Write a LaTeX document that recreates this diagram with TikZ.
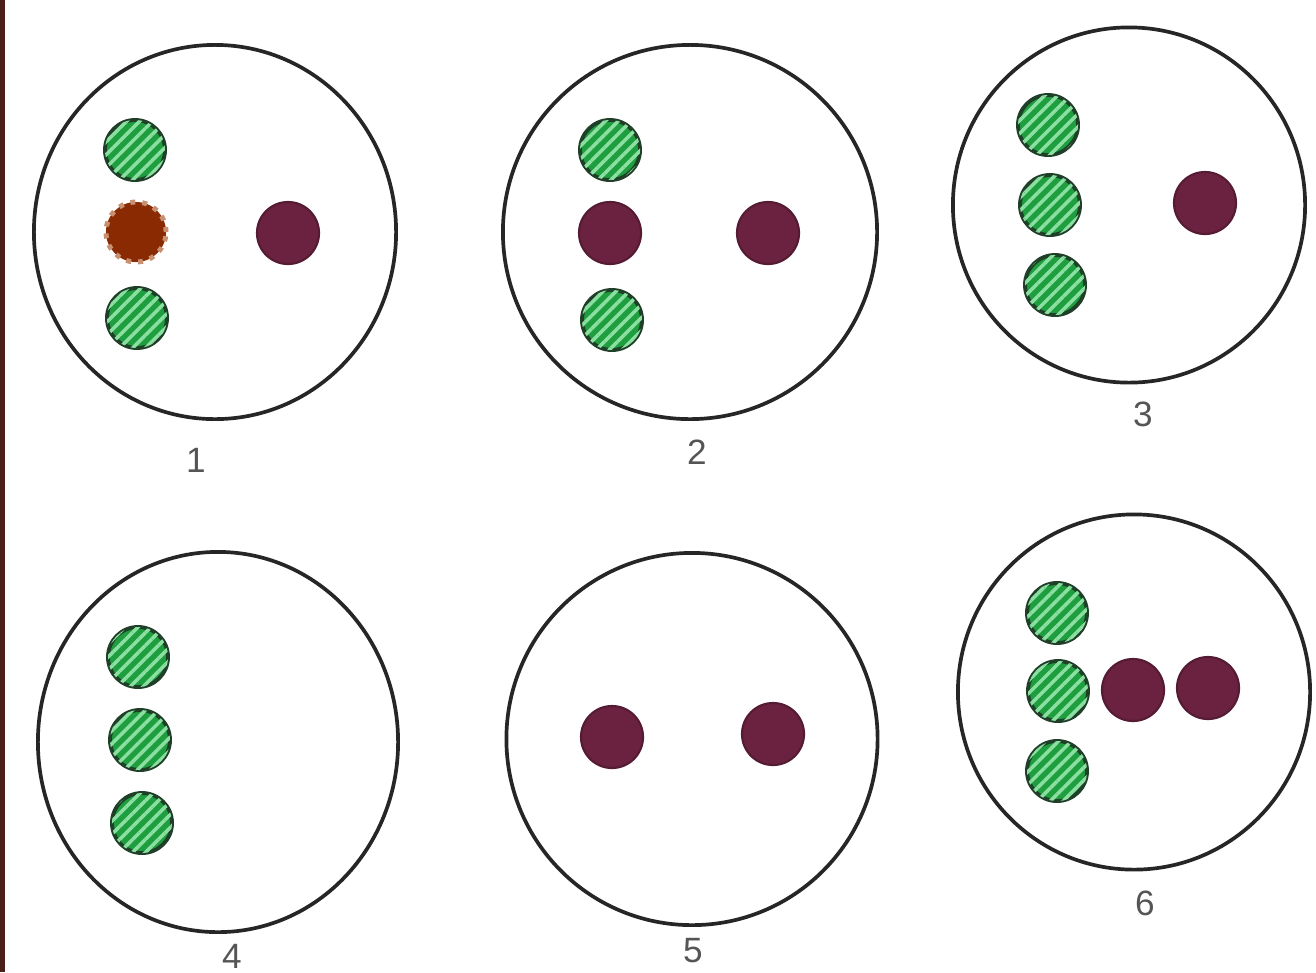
\documentclass[tikz,border=0pt]{standalone}
\usetikzlibrary{shapes.geometric,patterns.meta}
\usepackage{fontspec}
\setmainfont{Liberation Sans}
\definecolor{strip}{HTML}{4A2018}
\definecolor{gfill}{HTML}{1E9E3E}
\definecolor{gstripe}{HTML}{8BDFA0}
\definecolor{gedge}{HTML}{1F3F28}
\definecolor{maroon}{HTML}{6A2240}
\definecolor{bfill}{HTML}{8A2A02}
\definecolor{bedge}{HTML}{C89070}
\definecolor{ring}{HTML}{262626}
\definecolor{lab}{HTML}{555555}
\tikzset{
  dish/.style={ellipse, draw=ring, line width=1.05pt, inner sep=0pt},
  gdot/.style={circle, minimum size=0.6cm, inner sep=0pt, draw=gedge, line width=1.1pt, fill=gfill,
    postaction={pattern={Lines[angle=45,distance=2.6pt,line width=1pt]}, pattern color=gstripe}},
  mdot/.style={circle, minimum size=0.62cm, inner sep=0pt, fill=maroon, draw=maroon!80!black, line width=0.6pt},
  bdot/.style={circle, minimum size=0.6cm, inner sep=0pt, fill=bfill, draw=bedge, line width=1.4pt, dotted},
  num/.style={text=lab, font=\fontsize{10pt}{12pt}\selectfont}
}
\begin{document}
\begin{tikzpicture}[x=0.01cm,y=-0.01cm]
\useasboundingbox (0,0) rectangle (1316,972);
\fill[white] (0,0) rectangle (1316,972);
\fill[strip] (0,0) rectangle (5,972);
% dishes
\node[dish, minimum width=3.62cm, minimum height=3.74cm] (d1) at (215,232) {};
\node[dish, minimum width=3.74cm, minimum height=3.74cm] (d2) at (690,232) {};
\node[dish, minimum width=3.52cm, minimum height=3.55cm] (d3) at (1129,205) {};
\node[dish, minimum width=3.60cm, minimum height=3.80cm] (d4) at (218,742) {};
\node[dish, minimum width=3.71cm, minimum height=3.72cm] (d5) at (692,739) {};
\node[dish, minimum width=3.52cm, minimum height=3.55cm] (d6) at (1134,692) {};
% dish 1
\node[gdot] (a1) at (135,150) {};
\node[bdot] (a2) at (136,232) {};
\node[gdot] (a3) at (137,318) {};
\node[mdot] (a4) at (288,233) {};
% dish 2
\node[gdot] (b1) at (610,150) {};
\node[mdot] (b2) at (610,233) {};
\node[gdot] (b3) at (612,320) {};
\node[mdot] (b4) at (768,233) {};
% dish 3
\node[gdot] (c1) at (1048,125) {};
\node[gdot] (c2) at (1050,205) {};
\node[gdot] (c3) at (1055,285) {};
\node[mdot] (c4) at (1205,203) {};
% dish 4
\node[gdot] (e1) at (138,657) {};
\node[gdot] (e2) at (140,740) {};
\node[gdot] (e3) at (142,823) {};
% dish 5
\node[mdot] (f1) at (612,737) {};
\node[mdot] (f2) at (773,734) {};
% dish 6
\node[gdot] (g1) at (1057,613) {};
\node[gdot] (g2) at (1058,691) {};
\node[gdot] (g3) at (1057,771) {};
\node[mdot] (g4) at (1133,690) {};
\node[mdot] (g5) at (1208,688) {};
% labels
\node[num] (n1) at (196,460) {1};
\node[num] (n2) at (697,452) {2};
\node[num] (n3) at (1143,414) {3};
\node[num] (n4) at (232,956) {4};
\node[num] (n5) at (693,951) {5};
\node[num] (n6) at (1145,903) {6};
\end{tikzpicture}
\end{document}
